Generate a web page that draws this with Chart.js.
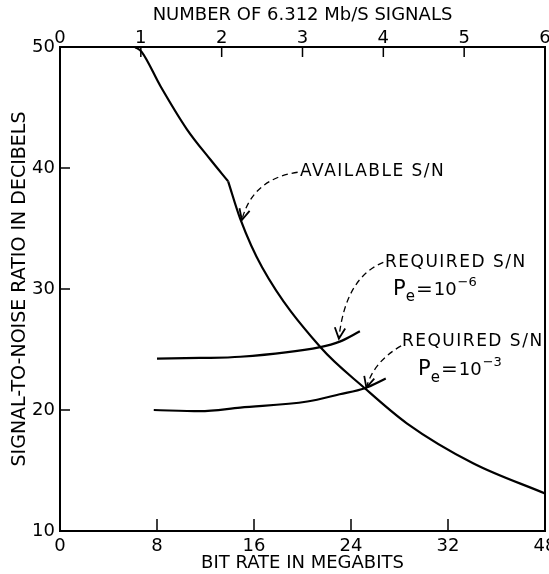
<!DOCTYPE html>
<html>
<head>
<meta charset="utf-8">
<script src="https://cdn.jsdelivr.net/npm/chart.js@4.4.1/dist/chart.umd.min.js"></script>
<style>
  html, body { margin: 0; padding: 0; background: #fff; }
  #wrap { width: 549px; height: 574px; }
</style>
</head>
<body>
<div id="wrap"><canvas id="snChart" width="549" height="574"></canvas></div>
<script>
// x values are in number of 6.312 Mb/s signals (top axis), y in dB
const availUpperX = [0.93, 1.01, 1.24, 1.57, 1.86, 2.08];
const availUpperY = [50.0, 49.6, 46.8, 43.2, 40.7, 38.9];
const availLowerX = [2.08, 2.23, 2.50, 3.22, 3.77, 4.29, 5.11, 6.0];
const availLowerY = [38.9, 35.8, 31.8, 25.2, 21.8, 18.9, 15.6, 13.1];

const req6X = [1.20, 1.73, 2.23, 3.22, 3.46, 3.71];
const req6Y = [24.25, 24.3, 24.4, 25.2, 25.65, 26.5];
const req3X = [1.16, 1.73, 2.23, 3.06, 3.46, 3.77, 4.03];
const req3Y = [20.0, 19.9, 20.2, 20.7, 21.3, 21.8, 22.6];

const topTickLabels = ['0', '1', '2', '3', '4', '5', '6'];
const bottomTickLabels = ['0', '8', '16', '24', '32', '48'];
const yTickLabels = ['10', '20', '30', '40', '50'];

// annotation anchors (data coords: signals, dB)
const notes = [
    { x: 2.97, y: 39.7, text: 'AVAILABLE S/N' },
    { x: 4.02, y: 32.2, text: 'REQUIRED S/N' },
    { x: 4.12, y: 29.96, pe: '-6' },
    { x: 4.23, y: 25.65, text: 'REQUIRED S/N' },
    { x: 4.43, y: 23.33, pe: '-3' }
];
// dashed arrows: start, control, end
const arrows = [
    [[2.94, 39.65], [2.38, 39.1], [2.25, 35.7]],
    [[4.00, 32.2], [3.53, 30.95], [3.45, 25.9]],
    [[4.22, 25.3], [3.88, 24.0], [3.79, 21.85]]
];

const FONT = '"DejaVu Sans", sans-serif';

function pts(xs, ys) {
    return xs.map((x, i) => ({ x: x, y: ys[i] }));
}

function curve(label, xs, ys) {
    return {
        label: label,
        data: pts(xs, ys),
        xAxisID: 'xTop',
        yAxisID: 'y',
        borderColor: '#000',
        borderWidth: 2.2,
        pointRadius: 0,
        fill: false,
        cubicInterpolationMode: 'monotone'
    };
}

function noPad(s) {
    s.paddingLeft = 0;
    s.paddingRight = 0;
    s.paddingTop = 0;
    s.paddingBottom = 0;
}

const framePlugin = {
    id: 'frame',
    afterDatasetsDraw(chart) {
        const ctx = chart.ctx;
        const a = chart.chartArea;
        const xs = chart.scales.xTop, xb = chart.scales.x, ys = chart.scales.y;
        ctx.save();
        ctx.strokeStyle = '#000';
        ctx.lineWidth = 2;
        ctx.strokeRect(a.left, a.top, a.right - a.left, a.bottom - a.top);

        // inward tick marks
        ctx.lineWidth = 1.5;
        ctx.beginPath();
        for (let v = 1; v < 6; v++) {
            const px = xs.getPixelForValue(v);
            ctx.moveTo(px, a.top); ctx.lineTo(px, a.top + 10);
        }
        for (let v = 8; v < 40; v += 8) {
            const px = xb.getPixelForValue(v);
            ctx.moveTo(px, a.bottom); ctx.lineTo(px, a.bottom - 12);
        }
        for (let v = 20; v < 50; v += 10) {
            const py = ys.getPixelForValue(v);
            ctx.moveTo(a.left, py); ctx.lineTo(a.left + 10, py);
        }
        ctx.stroke();

        // dashed arrows
        arrows.forEach(ar => {
            const p = ar.map(q => [xs.getPixelForValue(q[0]), ys.getPixelForValue(q[1])]);
            ctx.setLineDash([6, 4]);
            ctx.lineWidth = 1.3;
            ctx.beginPath();
            ctx.moveTo(p[0][0], p[0][1]);
            ctx.quadraticCurveTo(p[1][0], p[1][1], p[2][0], p[2][1]);
            ctx.stroke();
            ctx.setLineDash([]);
            const ang = Math.atan2(p[2][1] - p[1][1], p[2][0] - p[1][0]);
            const len = 12, spread = 0.45;
            ctx.lineWidth = 1.8;
            ctx.beginPath();
            ctx.moveTo(p[2][0] - len * Math.cos(ang - spread), p[2][1] - len * Math.sin(ang - spread));
            ctx.lineTo(p[2][0], p[2][1]);
            ctx.lineTo(p[2][0] - len * Math.cos(ang + spread), p[2][1] - len * Math.sin(ang + spread));
            ctx.stroke();
        });

        // annotation text
        ctx.fillStyle = '#000';
        ctx.textBaseline = 'middle';
        ctx.textAlign = 'left';
        ctx.letterSpacing = '1.5px';
        notes.forEach(n => {
            let px = xs.getPixelForValue(n.x);
            const py = ys.getPixelForValue(n.y);
            if (n.text) {
                ctx.font = '17px ' + FONT;
                ctx.fillText(n.text, px, py);
            } else {
                ctx.letterSpacing = '0px';
                ctx.font = '21px ' + FONT;
                ctx.fillText('P', px, py);
                px += ctx.measureText('P').width;
                ctx.font = '15px ' + FONT;
                ctx.fillText('e', px, py + 8);
                px += ctx.measureText('e').width + 1;
                ctx.font = '20px ' + FONT;
                ctx.fillText('=', px, py);
                px += ctx.measureText('=').width + 1;
                ctx.font = '18px ' + FONT;
                ctx.fillText('10', px, py + 1);
                px += ctx.measureText('10').width + 1;
                ctx.font = '13px ' + FONT;
                ctx.fillText('\u2212' + n.pe.slice(1), px, py - 7);
                ctx.letterSpacing = '1.5px';
            }
        });
        ctx.restore();
    }
};

document.addEventListener('DOMContentLoaded', function() {
    const ctx = document.getElementById('snChart').getContext('2d');
    new Chart(ctx, {
        type: 'line',
        data: {
            datasets: [
                curve('Available S/N', availUpperX, availUpperY),
                curve('Available S/N (lower)', availLowerX, availLowerY),
                curve('Required S/N Pe=10^-6', req6X, req6Y),
                curve('Required S/N Pe=10^-3', req3X, req3Y)
            ]
        },
        options: {
            responsive: false,
            animation: false,
            layout: { padding: { right: 4 } },
            plugins: {
                legend: { display: false },
                tooltip: { enabled: false }
            },
            scales: {
                xTop: {
                    type: 'linear',
                    position: 'top',
                    min: 0, max: 6,
                    grid: { display: false, drawTicks: false },
                    border: { display: false },
                    ticks: {
                        stepSize: 1,
                        color: '#000',
                        padding: -2,
                        font: { family: FONT, size: 18 },
                        maxRotation: 0,
                        callback: (v, i) => topTickLabels[i]
                    },
                    title: {
                        display: true,
                        text: 'NUMBER OF 6.312 Mb/S SIGNALS',
                        color: '#000',
                        font: { family: FONT, size: 18 },
                        padding: { top: 5, bottom: 0 }
                    },
                    afterFit: s => { s.height = 47; noPad(s); }
                },
                x: {
                    type: 'linear',
                    position: 'bottom',
                    min: 0, max: 40,
                    grid: { display: false, drawTicks: false },
                    border: { display: false },
                    ticks: {
                        stepSize: 8,
                        color: '#000',
                        padding: 5,
                        font: { family: FONT, size: 18 },
                        maxRotation: 0,
                        callback: (v, i) => bottomTickLabels[i]
                    },
                    title: {
                        display: true,
                        text: 'BIT RATE IN MEGABITS',
                        color: '#000',
                        font: { family: FONT, size: 18 },
                        padding: { top: 0, bottom: 0 }
                    },
                    afterFit: s => { s.height = 43; noPad(s); }
                },
                y: {
                    type: 'linear',
                    position: 'left',
                    min: 10, max: 50,
                    grid: { display: false, drawTicks: false },
                    border: { display: false },
                    ticks: {
                        stepSize: 10,
                        color: '#000',
                        padding: 5,
                        font: { family: FONT, size: 18 },
                        callback: (v, i) => yTickLabels[i]
                    },
                    title: {
                        display: true,
                        text: 'SIGNAL-TO-NOISE RATIO IN DECIBELS',
                        color: '#000',
                        font: { family: FONT, size: 19 },
                        padding: { top: 9, bottom: 0 }
                    },
                    afterFit: s => { s.width = 60; noPad(s); }
                }
            }
        },
        plugins: [framePlugin]
    });
});
</script>
</body>
</html>
